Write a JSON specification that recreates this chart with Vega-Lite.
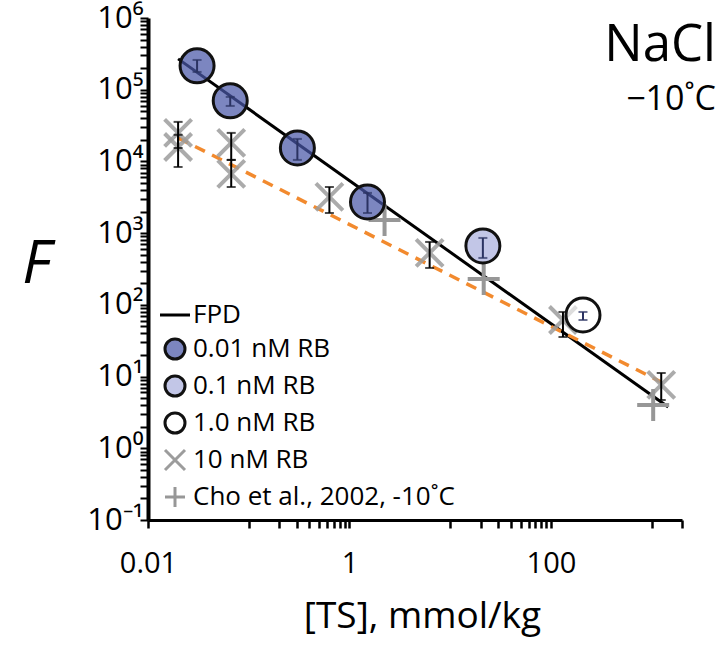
{
  "$schema": "https://vega.github.io/schema/vega-lite/v6.json",
  "width": 534,
  "height": 502,
  "autosize": {"type": "none"},
  "padding": {"left": 148, "top": 18, "right": 45, "bottom": 126},
  "background": "white",
  "title": {
    "text": "NaCl", "subtitle": "−10˚C",
    "orient": "top", "anchor": "end", "frame": "group", "align": "right",
    "font": "Open Sans", "subtitleFont": "Open Sans",
    "fontSize": 51, "subtitleFontSize": 34, "fontWeight": "normal",
    "color": "black", "subtitleColor": "black",
    "dx": 34, "offset": -116, "subtitlePadding": 11
  },
  "config": {
    "view": {"stroke": null},
    "font": "Open Sans",
    "axis": {"grid": false, "domainColor": "black", "tickColor": "black", "labelColor": "black", "titleColor": "black", "labelFont": "Open Sans", "titleFont": "Open Sans"}
  },
  "datasets": {
    "pts": [
      {"series": "0.01 nM RB", "ts": 0.0307, "F": 215000, "lo": 177000, "hi": 260000},
      {"series": "0.01 nM RB", "ts": 0.0655, "F": 70000, "lo": 59400, "hi": 79400},
      {"series": "0.01 nM RB", "ts": 0.304, "F": 15400, "lo": 10500, "hi": 20600},
      {"series": "0.01 nM RB", "ts": 1.51, "F": 2720, "lo": 1910, "hi": 3640},
      {"series": "0.1 nM RB", "ts": 21.1, "F": 663, "lo": 451, "hi": 857},
      {"series": "1.0 nM RB", "ts": 208, "F": 72.3, "lo": 61.5, "hi": 79.6},
      {"series": "10 nM RB", "ts": 0.0199, "F": 25000, "lo": 15400, "hi": 35600},
      {"series": "10 nM RB", "ts": 0.0199, "F": 15900, "lo": 8370, "hi": 23500},
      {"series": "10 nM RB", "ts": 0.067, "F": 18100, "lo": 10500, "hi": 25000},
      {"series": "10 nM RB", "ts": 0.067, "F": 6700, "lo": 4400, "hi": 10500},
      {"series": "10 nM RB", "ts": 0.632, "F": 3200, "lo": 1910, "hi": 4400},
      {"series": "10 nM RB", "ts": 6.25, "F": 530, "lo": 327, "hi": 754},
      {"series": "10 nM RB", "ts": 131.6, "F": 61.5, "lo": 35.6, "hi": 79.6},
      {"series": "10 nM RB", "ts": 1244, "F": 7.64, "lo": 4.72, "hi": 11.2},
      {"series": "Cho et al., 2002, -10˚C", "ts": 2.23, "F": 1530},
      {"series": "Cho et al., 2002, -10˚C", "ts": 21.5, "F": 230},
      {"series": "Cho et al., 2002, -10˚C", "ts": 1035, "F": 4.0}
    ],
    "lines": [
      {"line": "FPD", "ts": 0.0199, "F": 269000},
      {"line": "FPD", "ts": 1459, "F": 3.77},
      {"line": "fit", "ts": 0.0199, "F": 21300},
      {"line": "fit", "ts": 1240, "F": 8.4}
    ]
  },
  "encoding": {
    "x": {
      "field": "ts", "type": "quantitative",
      "scale": {"type": "log", "domain": [0.01, 2000], "nice": false},
      "axis": {
        "title": "[TS], mmol/kg",
        "values": [0.01, 0.1, 0.2, 0.3, 0.4, 0.5, 0.6, 0.7, 0.8, 0.9, 1, 10, 20, 30, 40, 50, 60, 70, 80, 90, 100, 1000, 2000],
        "labelExpr": "abs(datum.value-0.01)<1e-9 ? '0.01' : abs(datum.value-1)<1e-9 ? '1' : abs(datum.value-100)<1e-6 ? '100' : ''",
        "labelOverlap": false, "labelFlush": false,
        "labelFontSize": 29, "labelPadding": 21,
        "tickSize": 8, "tickWidth": 2.5, "domainWidth": 3,
        "titleFontSize": 37, "titleFontWeight": "normal",
        "titleX": 274, "titleY": 107, "titleBaseline": "alphabetic", "titleAlign": "center"
      }
    },
    "y": {
      "field": "F", "type": "quantitative",
      "scale": {"type": "log", "domain": [0.1, 1000000], "nice": false},
      "axis": {
        "title": "F",
        "values": [0.1, 0.2, 0.3, 0.4, 0.5, 0.6, 0.7, 0.8, 0.9, 1, 2, 3, 4, 5, 6, 7, 8, 9, 10, 20, 30, 40, 50, 60, 70, 80, 90, 100, 200, 300, 400, 500, 600, 700, 800, 900, 1000, 2000, 3000, 4000, 5000, 6000, 7000, 8000, 9000, 10000, 20000, 30000, 40000, 50000, 60000, 70000, 80000, 90000, 100000, 200000, 300000, 400000, 500000, 600000, 700000, 800000, 900000, 1000000],
        "labelExpr": "abs(log(datum.value)/LN10 - round(log(datum.value)/LN10)) < 0.001 ? '10' + ['⁻¹','⁰','¹','²','³','⁴','⁵','⁶'][round(log(datum.value)/LN10)+1] : ''",
        "labelOverlap": false, "labelFlush": false,
        "labelFontSize": 31, "labelPadding": -3, "labelBaseline": "middle",
        "tickSize": 8, "tickWidth": 2, "domainWidth": 4,
        "titleFontSize": 60, "titleFontStyle": "italic", "titleFontWeight": "normal",
        "titleAngle": 0, "titleX": -112, "titleY": 246, "titleAlign": "center", "titleBaseline": "middle"
      }
    }
  },
  "layer": [
    {
      "data": {"name": "lines"},
      "transform": [{"filter": "datum.line === 'FPD'"}],
      "mark": {"type": "line", "color": "black", "strokeWidth": 3}
    },
    {
      "data": {"name": "lines"},
      "transform": [{"filter": "datum.line === 'fit'"}],
      "mark": {"type": "line", "color": "#f28a2e", "strokeWidth": 3.5, "strokeDash": [11, 8]}
    },
    {
      "data": {"name": "pts"},
      "transform": [{"filter": "datum.series === '10 nM RB'"}],
      "mark": {"type": "point", "size": 729, "strokeWidth": 4, "opacity": 1, "strokeOpacity": 0.85},
      "encoding": {
        "shape": {"field": "series", "type": "nominal",
          "scale": {"domain": ["FPD", "0.01 nM RB", "0.1 nM RB", "1.0 nM RB", "10 nM RB", "Cho et al., 2002, -10˚C"],
                    "range": ["M-1.5,0L1.5,0", "circle", "circle", "circle", "M-1,-1L1,1M-1,1L1,-1", "M-1,0L1,0M0,-1L0,1"]},
          "legend": {
            "title": null, "orient": "none", "legendX": 14, "legendY": 284,
            "labelFont": "Open Sans", "labelFontSize": 26, "labelColor": "black", "labelLimit": 0,
            "symbolSize": 400, "symbolStrokeWidth": 3, "symbolOpacity": 1, "labelOffset": 5, "rowPadding": 5, "padding": 0,
            "encode": {"symbols": {"update": {"opacity": {"value": 1}, "strokeOpacity": {"value": 1}}}}
          }
        },
        "fill": {"field": "series", "type": "nominal",
          "scale": {"domain": ["FPD", "0.01 nM RB", "0.1 nM RB", "1.0 nM RB", "10 nM RB", "Cho et al., 2002, -10˚C"],
                    "range": ["transparent", "rgba(74,87,168,0.72)", "rgba(171,176,222,0.72)", "rgba(255,255,255,0.6)", "transparent", "transparent"]}
        },
        "stroke": {"field": "series", "type": "nominal",
          "scale": {"domain": ["FPD", "0.01 nM RB", "0.1 nM RB", "1.0 nM RB", "10 nM RB", "Cho et al., 2002, -10˚C"],
                    "range": ["black", "#111111", "#111111", "#111111", "#9c9c9c", "#979797"]}
        }
      }
    },
    {
      "data": {"name": "pts"},
      "transform": [{"filter": "datum.series === 'Cho et al., 2002, -10˚C'"}],
      "mark": {"type": "point", "size": 1024, "strokeWidth": 4, "opacity": 1},
      "encoding": {
        "shape": {"field": "series", "type": "nominal"},
        "fill": {"field": "series", "type": "nominal"},
        "stroke": {"field": "series", "type": "nominal"}
      }
    },
    {
      "data": {"name": "pts"},
      "transform": [{"filter": "datum.series === '10 nM RB'"}],
      "mark": {"type": "errorbar", "color": "black", "ticks": {"size": 9, "thickness": 2, "color": "black"}, "rule": {"strokeWidth": 2, "color": "black"}},
      "encoding": {
        "y": {"field": "lo", "type": "quantitative", "scale": {"type": "log", "domain": [0.1, 1000000], "nice": false}, "title": "F"},
        "y2": {"field": "hi"}
      }
    },
    {
      "data": {"name": "pts"},
      "transform": [{"filter": "indexof(['0.01 nM RB','0.1 nM RB','1.0 nM RB'], datum.series) >= 0"}],
      "mark": {"type": "point", "size": 1156, "strokeWidth": 3, "opacity": 1},
      "encoding": {
        "shape": {"field": "series", "type": "nominal"},
        "fill": {"field": "series", "type": "nominal"},
        "stroke": {"field": "series", "type": "nominal"}
      }
    },
    {
      "data": {"name": "pts"},
      "transform": [{"filter": "indexof(['0.01 nM RB','0.1 nM RB','1.0 nM RB'], datum.series) >= 0"}],
      "mark": {"type": "errorbar", "color": "#2b3362", "ticks": {"size": 9, "thickness": 2, "color": "#2b3362"}, "rule": {"strokeWidth": 2, "color": "#2b3362"}},
      "encoding": {
        "y": {"field": "lo", "type": "quantitative", "scale": {"type": "log", "domain": [0.1, 1000000], "nice": false}, "title": "F"},
        "y2": {"field": "hi"}
      }
    }
  ]
}
